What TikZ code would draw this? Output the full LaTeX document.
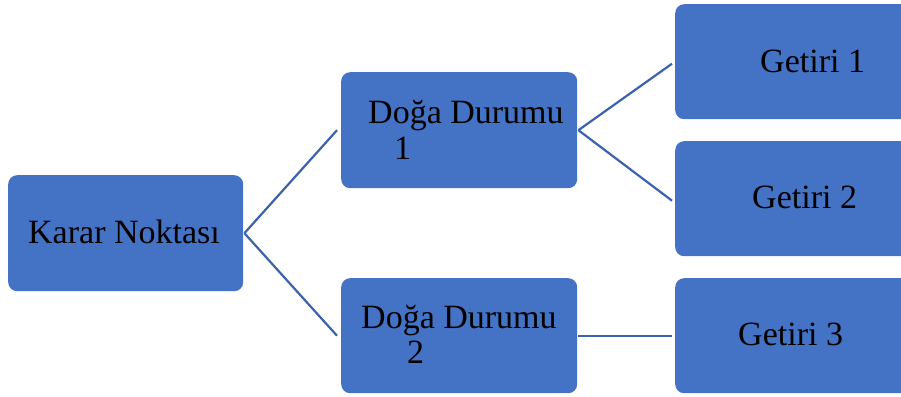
\documentclass[tikz,border=0pt]{standalone}
\usepackage{fontspec}
\setmainfont{Liberation Serif}
\definecolor{boxblue}{HTML}{4472C4}
\definecolor{lineblue}{HTML}{3C62AE}
\begin{document}
\begin{tikzpicture}[x=1pt,y=-1pt,
  boxstyle/.style={fill=boxblue,draw=none,rounded corners=9pt,inner sep=0pt,anchor=north west},
  lbl/.style={anchor=base west,inner sep=0pt,font=\fontsize{34}{40}\selectfont,text=black},
  conn/.style={draw=lineblue,line width=2.2pt}]
\useasboundingbox (0,0) rectangle (901,396);
\clip (0,0) rectangle (901,396);
\node[boxstyle,minimum width=235pt,minimum height=116pt] (k) at (8,175) {};
\node[boxstyle,minimum width=236pt,minimum height=116pt] (d1) at (341,72) {};
\node[boxstyle,minimum width=236pt,minimum height=115pt] (d2) at (341,278) {};
\node[boxstyle,minimum width=245pt,minimum height=115pt] (g1) at (675,4) {};
\node[boxstyle,minimum width=245pt,minimum height=115pt] (g2) at (675,141) {};
\node[boxstyle,minimum width=245pt,minimum height=115pt] (g3) at (675,278) {};
\node[lbl] (tk) at (28,243) {Karar Noktası};
\node[lbl] (td1a) at (368,123) {Doğa Durumu};
\node[lbl] (td1b) at (394,159) {1};
\node[lbl] (td2a) at (361,328) {Doğa Durumu};
\node[lbl] (td2b) at (407,363) {2};
\node[lbl] (tg1) at (760,72) {Getiri 1};
\node[lbl] (tg2) at (752,208) {Getiri 2};
\node[lbl] (tg3) at (738,345) {Getiri 3};
\draw[conn] ([xshift=1pt]k.east) -- ([xshift=-4pt]d1.west);
\draw[conn] ([xshift=1pt]k.east) -- ([xshift=-4pt]d2.west);
\draw[conn] ([xshift=1pt]d1.east) -- ([xshift=-3pt,yshift=-2pt]g1.west);
\draw[conn] ([xshift=1pt]d1.east) -- ([xshift=-3pt,yshift=-2pt]g2.west);
\draw[conn] ([xshift=1pt]d2.east) -- ([xshift=-3pt]g3.west);
\end{tikzpicture}
\end{document}
